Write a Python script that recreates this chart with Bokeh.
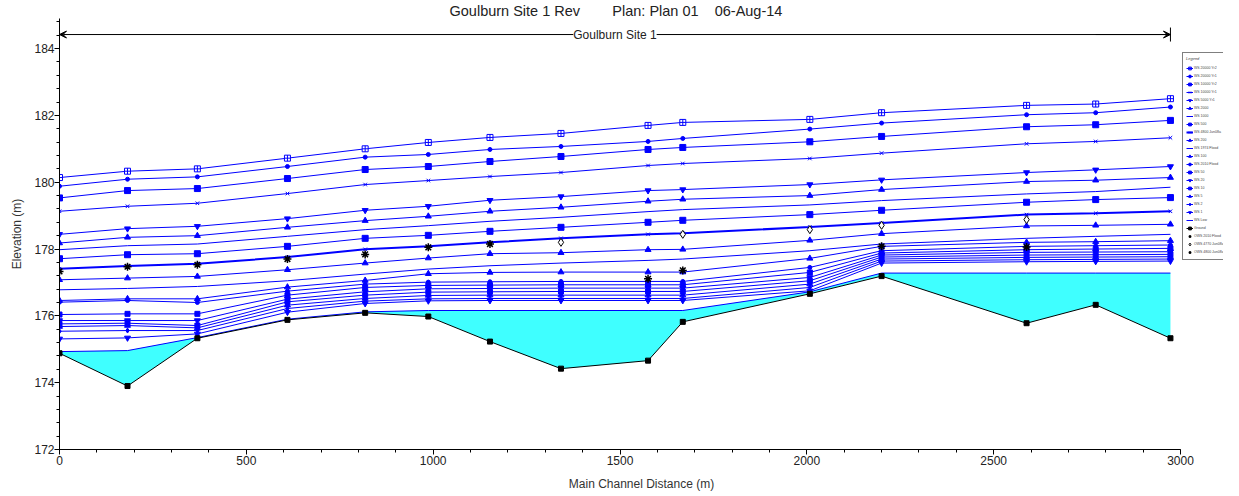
from bokeh.plotting import figure
from bokeh.models import (Legend, LegendItem, Arrow, VeeHead, TeeHead, Label,
                          Range1d, SingleIntervalTicker)
from bokeh.embed import file_html
from bokeh.resources import INLINE

# ---------------- data ----------------
stations = [0, 182, 369, 610, 818, 987, 1152, 1342, 1575, 1668, 2008, 2200, 2588, 2773, 2973]
ground = [174.88, 173.90, 175.33, 175.88, 176.09, 175.98, 175.23, 174.42, 174.66, 175.82, 176.66, 177.19, 175.78, 176.33, 175.33]

ws_names = ["WS 20000 Yr2", "WS 20000 Yr1", "WS 10000 Yr2", "WS 10000 Yr1", "WS 5000 Yr1",
            "WS 2000", "WS 1000", "WS 500", "WS 4800 Jun08a", "WS 200", "WS 1974 Flood",
            "WS 100", "WS 2010 Flood", "WS 50", "WS 20", "WS 10", "WS 5", "WS 2", "WS 1", "WS Low"]
ws_1 = [180.14, 180.33, 180.40, 180.72, 181.00, 181.19, 181.34, 181.46, 181.70, 181.79, 181.88, 182.08, 182.30, 182.34, 182.50]
ws_2 = [179.88, 180.09, 180.16, 180.47, 180.75, 180.83, 180.98, 181.07, 181.22, 181.31, 181.59, 181.77, 182.02, 182.08, 182.25]
ws_3 = [179.53, 179.75, 179.81, 180.11, 180.38, 180.47, 180.62, 180.77, 180.98, 181.04, 181.21, 181.37, 181.66, 181.72, 181.85]
ws_4 = [179.13, 179.28, 179.37, 179.66, 179.93, 180.05, 180.17, 180.29, 180.50, 180.56, 180.71, 180.87, 181.15, 181.22, 181.33]
ws_5 = [178.44, 178.61, 178.68, 178.91, 179.16, 179.28, 179.46, 179.57, 179.75, 179.78, 179.93, 180.07, 180.29, 180.37, 180.47]
ws_6 = [178.18, 178.35, 178.40, 178.65, 178.85, 178.98, 179.13, 179.25, 179.43, 179.49, 179.60, 179.78, 180.02, 180.06, 180.14]
ws_7 = [177.98, 178.10, 178.15, 178.38, 178.58, 178.70, 178.83, 178.95, 179.12, 179.18, 179.32, 179.45, 179.65, 179.72, 179.85]
ws_8 = [177.71, 177.83, 177.86, 178.08, 178.32, 178.41, 178.53, 178.65, 178.80, 178.86, 179.03, 179.16, 179.40, 179.48, 179.54]
ws_9 = [177.41, 177.49, 177.56, 177.76, 177.99, 178.08, 178.20, 178.32, 178.44, 178.47, 178.66, 178.78, 179.03, 179.07, 179.13]
ws_10 = [177.08, 177.13, 177.18, 177.38, 177.58, 177.73, 177.86, 177.89, 177.98, 177.99, 178.26, 178.46, 178.69, 178.71, 178.74]
ws_11 = [176.78, 176.82, 176.88, 177.05, 177.25, 177.40, 177.50, 177.58, 177.66, 177.70, 177.95, 178.15, 178.32, 178.38, 178.44]
ws_12 = [176.46, 176.51, 176.51, 176.86, 177.06, 177.26, 177.30, 177.31, 177.31, 177.31, 177.72, 178.08, 178.20, 178.22, 178.25]
ws_13 = [176.41, 176.46, 176.40, 176.74, 176.95, 177.01, 177.02, 177.03, 177.03, 177.03, 177.45, 177.95, 178.08, 178.10, 178.12]
ws_14 = [176.04, 176.06, 176.06, 176.62, 176.85, 176.91, 176.92, 176.93, 176.93, 176.93, 177.30, 177.88, 177.98, 178.00, 178.02]
ws_15 = [175.86, 175.86, 175.86, 176.50, 176.72, 176.81, 176.82, 176.83, 176.83, 176.83, 177.15, 177.82, 177.90, 177.91, 177.92]
ws_16 = [175.76, 175.78, 175.71, 176.42, 176.62, 176.71, 176.72, 176.73, 176.73, 176.73, 177.05, 177.76, 177.82, 177.83, 177.84]
ws_17 = [175.68, 175.71, 175.64, 176.32, 176.52, 176.61, 176.62, 176.62, 176.62, 176.62, 176.95, 177.70, 177.75, 177.76, 177.77]
ws_18 = [175.54, 175.56, 175.56, 176.22, 176.44, 176.51, 176.52, 176.52, 176.52, 176.52, 176.85, 177.64, 177.68, 177.69, 177.70]
ws_19 = [175.31, 175.34, 175.46, 176.11, 176.37, 176.45, 176.46, 176.46, 176.46, 176.46, 176.75, 177.58, 177.62, 177.63, 177.64]
ws_low = [174.93, 174.96, 175.35, 175.90, 176.12, 176.16, 176.16, 176.16, 176.16, 176.16, 176.72, 177.28, 177.28, 177.28, 177.28]

obs_names = ["OWS 2010 Flood", "OWS 4770 Jun08a", "OWS 4800 Jun08a"]
obs_a_x = [1575, 1668, 2200, 2588]
obs_a_y = [177.11, 177.36, 178.08, 178.06]
obs_b_x = [1342, 1668, 2008, 2200, 2588]
obs_b_y = [178.20, 178.44, 178.58, 178.71, 178.88]
obs_c_x = [0, 182, 369, 610, 818, 987, 1152]
obs_c_y = [177.33, 177.47, 177.53, 177.70, 177.84, 178.05, 178.15]

title_text = ("Goulburn Site 1 Rev" + "\u00a0" * 8 + "Plan: Plan 01" + "\u00a0" * 4 + "06-Aug-14")
reach_name = "Goulburn Site 1"
reach_y = 184.42
x_axis_end = 3000

# ---------------- styling ----------------
FONT = "Liberation Sans"
ws_series = [ws_1, ws_2, ws_3, ws_4, ws_5, ws_6, ws_7, ws_8, ws_9, ws_10, ws_11,
             ws_12, ws_13, ws_14, ws_15, ws_16, ws_17, ws_18, ws_19, ws_low]
ws_markers = ["square_cross", "circle", "square", "x", "inverted_triangle", "triangle", None,
              "square", "x", "triangle", None,
              "triangle", "circle", "square", "inverted_triangle", "square", "triangle",
              "diamond", "inverted_triangle", None]
ws_sizes = [6, 4, 6, 5, 6, 6, 0, 6, 5, 6, 0, 6, 4, 5, 6, 5, 6, 5, 6, 0]
ws_widths = [1] * len(ws_series)
ws_widths[8] = 2

# frame: 3000 m sits at the axis end; the frame continues to the right to hold the legend
p = figure(width=1223, height=493, output_backend="svg", toolbar_location=None,
           x_range=Range1d(0, 3115), y_range=Range1d(172, 184.9),
           min_border_left=59, min_border_right=0, min_border_bottom=41, min_border_top=15,
           title=title_text)
p.title.align = "left"
p.title.text_font = FONT
p.title.text_font_size = "14.5px"
p.title.text_font_style = "normal"
p.title.text_color = "#222222"
p.title.standoff = 0
p.title.offset = 390
p.outline_line_color = None
p.grid.visible = False
p.background_fill_color = "white"

# ground fill and lines
p.varea(x=stations, y1=ground, y2=ws_low, fill_color="#3FFFFF")

items = []
for name, ys, mk, sz, lw in zip(ws_names, ws_series, ws_markers, ws_sizes, ws_widths):
    rs = [p.line(stations, ys, line_color="#0000FF", line_width=lw)]
    if mk is not None:
        fill = "white" if mk == "square_cross" else "#0000FF"
        rs.append(p.scatter(stations, ys, marker=mk, size=sz, line_color="#0000FF",
                            fill_color=fill, line_width=1))
    items.append(LegendItem(label=name, renderers=rs))

g_line = p.line(stations, ground, line_color="black", line_width=1)
g_pts = p.scatter(stations, ground, marker="square", size=5, color="black")
items.append(LegendItem(label="Ground", renderers=[g_line, g_pts]))

oa = p.scatter(obs_a_x, obs_a_y, marker="asterisk", size=8, line_color="black", line_width=1.5)
ob = p.scatter(obs_b_x, obs_b_y, marker="diamond", size=8, line_color="black", fill_color="white", line_width=1)
oc = p.scatter(obs_c_x, obs_c_y, marker="asterisk", size=8, line_color="black", line_width=1.5)
for name, r in zip(obs_names, [oa, ob, oc]):
    items.append(LegendItem(label=name, renderers=[r]))

# reach arrow
p.add_layout(Arrow(start=VeeHead(size=7, line_width=1, fill_color="black"),
                   end=TeeHead(size=14, line_width=1),
                   x_start=stations[0], x_end=stations[-1], y_start=reach_y, y_end=reach_y,
                   line_width=1, line_color="black"))
p.add_layout(Arrow(end=VeeHead(size=7, line_width=1, fill_color="black"),
                   x_start=stations[-2], x_end=stations[-1], y_start=reach_y, y_end=reach_y,
                   line_width=1, line_color="black"))
p.add_layout(Label(x=(stations[0] + stations[-1]) / 2, y=reach_y, text=reach_name,
                   text_align="center", text_baseline="middle", text_font=FONT,
                   text_font_size="12px", text_color="#222222",
                   background_fill_color="white"))

# axes
for ax in (p.xaxis[0], p.yaxis[0]):
    ax.axis_line_color = "black"
    ax.major_tick_line_color = "black"
    ax.minor_tick_line_color = "black"
    ax.major_tick_in = 0
    ax.major_tick_out = 5
    ax.minor_tick_in = 0
    ax.minor_tick_out = 3
    ax.major_label_text_font = FONT
    ax.major_label_text_font_size = "12px"
    ax.major_label_text_color = "#222222"
    ax.axis_label_text_font = FONT
    ax.axis_label_text_font_size = "12px"
    ax.axis_label_text_font_style = "normal"
    ax.axis_label_text_color = "#333333"

p.xaxis.ticker = SingleIntervalTicker(interval=500, num_minor_ticks=5)
p.yaxis.ticker = SingleIntervalTicker(interval=2, num_minor_ticks=5)
p.xaxis.bounds = (0, x_axis_end)
p.xaxis.axis_label = "Main Channel Distance (m)"
p.yaxis.axis_label = "Elevation (m)"
p.xaxis.major_label_standoff = 1
p.xaxis.axis_label_standoff = 9
p.yaxis.major_label_standoff = 0
p.yaxis.axis_label_standoff = 7

legend = Legend(items=items, title="Legend", location=(1123, 189),
                label_text_font=FONT, label_text_font_size="3.5px",
                title_text_font=FONT, title_text_font_size="4px", title_standoff=3,
                glyph_width=7, glyph_height=8, label_height=8, label_standoff=1,
                spacing=0, padding=3, margin=0,
                border_line_color="black", border_line_width=1,
                background_fill_color="white", background_fill_alpha=1)
p.add_layout(legend, "center")

open("out.html", "w").write(file_html(p, INLINE))
